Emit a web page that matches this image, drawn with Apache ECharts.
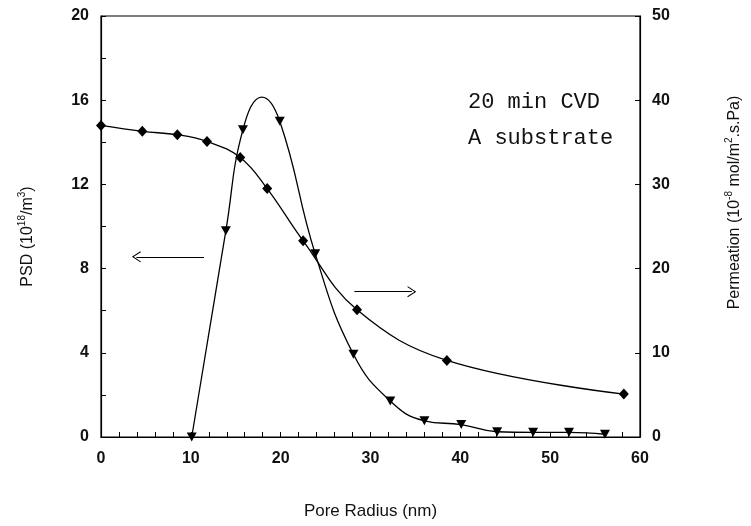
<!DOCTYPE html>
<html>
<head>
<meta charset="utf-8">
<script src="https://cdn.jsdelivr.net/npm/echarts@6/dist/echarts.min.js"></script>
<style>html,body{margin:0;padding:0;background:#fff}#c{width:751px;height:526px}</style>
</head>
<body>
<div id="c"></div>
<script>
// Pore size distribution (triangles, left axis) - measured points
const psdRadius = [10.1, 13.9, 15.8, 19.9, 23.85, 28.1, 32.2, 36.0, 40.1, 44.1, 48.1, 52.1, 56.1];
const psdValues = [0.0, 9.8, 14.6, 15.0, 8.7, 3.93, 1.71, 0.77, 0.59, 0.25, 0.22, 0.22, 0.13];
// Fitted PSD curve (includes its peak)
const psdCurveRadius = [10.1, 13.9, 15.8, 17.9, 19.9, 23.85, 28.1, 32.2, 36.0, 40.1, 44.1, 48.1, 52.1, 56.1];
const psdCurveValues = [0.0, 9.8, 14.6, 16.15, 15.0, 8.7, 3.93, 1.71, 0.77, 0.59, 0.25, 0.22, 0.22, 0.13];
// Permeation (diamonds, right axis)
const permRadius = [0, 4.6, 8.5, 11.8, 15.5, 18.5, 22.5, 28.5, 38.5, 58.2];
const permValues = [37.0, 36.3, 35.9, 35.1, 33.2, 29.5, 23.3, 15.1, 9.1, 5.1];
// Axis ticks
const xTicks = [0, 10, 20, 30, 40, 50, 60];
const psdTicks = [0, 4, 8, 12, 16, 20];
const permTicks = [0, 10, 20, 30, 40, 50];

const psdPts = psdRadius.map((x, i) => [x, psdValues[i]]);
const psdCurve = psdCurveRadius.map((x, i) => [x, psdCurveValues[i]]);
const permPts = permRadius.map((x, i) => [x, permValues[i]]);

const chart = echarts.init(document.getElementById('c'), null, {renderer: 'canvas'});
const sans = 'Liberation Sans, Arial, Helvetica, sans-serif';
const tickFont = {color: '#111', fontFamily: sans, fontSize: 16, fontWeight: 'bold'};
const chevron = 'path://M0,10 L5,0 L10,10 L9.2,10.6 L5,2.2 L0.8,10.6 Z';

chart.setOption({
  animation: false,
  backgroundColor: '#fff',
  grid: {left: 101, right: 106, top: 16, bottom: 89, show: true, borderColor: '#000', borderWidth: 1.2, backgroundColor: 'transparent'},
  xAxis: {
    type: 'value', min: xTicks[0], max: xTicks[xTicks.length - 1], interval: 10,
    name: 'Pore Radius (nm)', nameLocation: 'middle', nameGap: 66,
    nameTextStyle: {color: '#111', fontFamily: sans, fontSize: 17},
    axisLine: {lineStyle: {color: '#000', width: 1.2}},
    axisTick: {inside: true, length: 5, lineStyle: {color: '#000'}},
    minorTick: {show: true, splitNumber: 5, length: 5, lineStyle: {color: '#000'}},
    axisLabel: Object.assign({margin: 14}, tickFont),
    splitLine: {show: false}
  },
  yAxis: [{
    type: 'value', min: psdTicks[0], max: psdTicks[psdTicks.length - 1], interval: 4, position: 'left',
    name: '{a|PSD (10}{s|18}{a|/m}{s|3}{a|)}', nameLocation: 'middle', nameGap: 62, nameRotate: 90,
    nameTextStyle: {padding: [0, 20, 0, 0], rich: {
      a: {color: '#111', fontFamily: sans, fontSize: 16, lineHeight: 22},
      s: {color: '#111', fontFamily: sans, fontSize: 10, lineHeight: 22, verticalAlign: 'top'}
    }},
    axisLine: {lineStyle: {color: '#000', width: 1.2}},
    axisTick: {inside: true, length: 5, lineStyle: {color: '#000'}},
    minorTick: {show: true, splitNumber: 2, length: 5, lineStyle: {color: '#000'}},
    axisLabel: Object.assign({margin: 12}, tickFont),
    splitLine: {show: false}
  }, {
    type: 'value', min: permTicks[0], max: permTicks[permTicks.length - 1], interval: 10, position: 'right',
    name: '{a|Permeation (10}{s|-8}{a| mol/m}{s|2}{a|.s.Pa)}', nameLocation: 'middle', nameGap: 84, nameRotate: 90,
    nameTextStyle: {padding: [0, 0, 0, 48], rich: {
      a: {color: '#111', fontFamily: sans, fontSize: 16, lineHeight: 22},
      s: {color: '#111', fontFamily: sans, fontSize: 10, lineHeight: 22, verticalAlign: 'top'}
    }},
    axisLine: {show: true, lineStyle: {color: '#000', width: 1.2}},
    axisTick: {inside: true, length: 5, lineStyle: {color: '#000'}},
    axisLabel: Object.assign({margin: 12}, tickFont),
    splitLine: {show: false}
  }],
  graphic: [
    {type: 'text', left: 468, top: 91, style: {text: '20 min CVD', font: '22px "Liberation Mono", monospace', fill: '#111'}},
    {type: 'text', left: 468, top: 127, style: {text: 'A substrate', font: '22px "Liberation Mono", monospace', fill: '#111'}}
  ],
  series: [{
    name: 'PSD curve', type: 'line', yAxisIndex: 0, data: psdCurve, smooth: 0.45,
    showSymbol: false, symbol: 'none',
    lineStyle: {color: '#000', width: 1.3},
    markLine: {silent: true, symbol: ['none', chevron], symbolSize: [11, 9],
      label: {show: false}, lineStyle: {color: '#000', width: 1.2, type: 'solid'},
      data: [[{coord: [11.47, 8.56]}, {coord: [3.94, 8.56]}]]}
  }, {
    name: 'PSD', type: 'scatter', yAxisIndex: 0, data: psdPts,
    symbol: 'triangle', symbolRotate: 180, symbolSize: [10, 9],
    itemStyle: {color: '#000', opacity: 1}
  }, {
    name: 'Permeation', type: 'line', yAxisIndex: 1, data: permPts, smooth: 0.4,
    symbol: 'diamond', symbolSize: [10, 11], showSymbol: true,
    lineStyle: {color: '#000', width: 1.3}, itemStyle: {color: '#000', opacity: 1},
    markLine: {silent: true, symbol: ['none', chevron], symbolSize: [11, 9],
      label: {show: false}, lineStyle: {color: '#000', width: 1.2, type: 'solid'},
      data: [[{coord: [28.2, 17.26]}, {coord: [34.6, 17.26]}]]}
  }]
});
</script>
</body>
</html>
